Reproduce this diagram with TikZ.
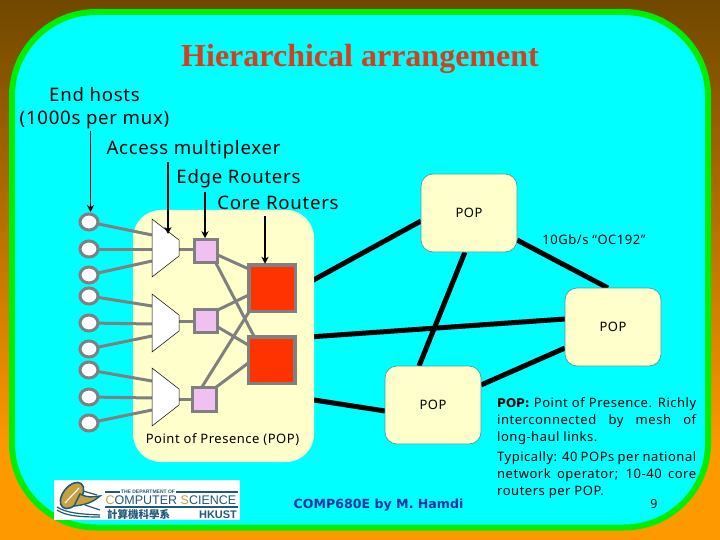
\documentclass[tikz,border=0pt]{standalone}
\usepackage{fontspec}
\usetikzlibrary{calc,arrows.meta,shapes.geometric}
\setmainfont{Noto Sans}[LetterSpace=4]
\newfontfamily\titlefont{Liberation Serif}
\newfontfamily\logofont{Liberation Sans}
\newfontfamily\heavyfont{DejaVu Sans}
\newfontfamily\cjkfont{Noto Sans CJK TC}
\definecolor{grayline}{HTML}{808080}
\definecolor{cream}{HTML}{FFFFCC}
\definecolor{logoteal}{HTML}{1F5A78}
\definecolor{logogold}{HTML}{C8A040}
\definecolor{bgbrown}{HTML}{704800}
\definecolor{bgorange}{HTML}{FF9900}
\definecolor{framegreen}{HTML}{00EE00}
\definecolor{slidecyan}{HTML}{00FFFF}
\definecolor{edgepink}{HTML}{F0C0F0}
\definecolor{corered}{HTML}{FF3300}
\definecolor{popedge}{HTML}{46A0A0}
\definecolor{titlered}{HTML}{D4401F}
\definecolor{compblue}{HTML}{0A32AA}
\pgfdeclarelayer{bg}
\pgfdeclarelayer{links}
\pgfdeclarelayer{popbg}
\pgfdeclarelayer{conn}
\pgfsetlayers{bg,links,popbg,conn,main}
\tikzset{
  host/.style={ellipse,draw=grayline,line width=3pt,fill=white,minimum width=18pt,minimum height=16pt,inner sep=0pt,outer sep=0pt},
  muxbox/.style={rectangle,minimum width=27pt,minimum height=58pt,inner sep=0pt,outer sep=0pt},
  edgebox/.style={rectangle,draw=grayline,line width=3pt,fill=edgepink,minimum width=23.5pt,minimum height=23.5pt,inner sep=0pt,outer sep=0pt},
  corebox/.style={rectangle,draw=grayline,line width=3.5pt,fill=corered,minimum width=46.5pt,minimum height=46.5pt,inner sep=0pt,outer sep=0pt},
  popbox/.style={rectangle,rounded corners=12pt,draw=popedge,line width=0.7pt,fill=cream,minimum width=96pt,minimum height=78pt,inner sep=0pt,outer sep=0pt,font=\fontsize{13}{15}\selectfont},
  glink/.style={draw=grayline,line width=3pt},
  blink/.style={draw=black,line width=5pt},
  callout/.style={draw=black,line width=1.6pt,-{Stealth[length=7pt,width=7pt]}},
  lbl/.style={inner sep=0pt,font=\fontsize{18.6}{21}\selectfont},
}
\begin{document}
\begin{tikzpicture}[x=1pt,y=-1pt]
\useasboundingbox (0,0) rectangle (720,540);
\begin{pgfonlayer}{bg}
  \shade[top color=bgbrown,bottom color=bgorange] (0,0) rectangle (720,450);
  \fill[bgorange] (0,449) rectangle (720,540);
  \draw[draw=framegreen,fill=slidecyan,line width=6pt,rounded corners=84pt] (12,12) rectangle (708,527.5);
\end{pgfonlayer}

\begin{pgfonlayer}{popbg}
\node[rectangle,rounded corners=28pt,fill=cream,minimum width=181pt,minimum height=252pt,inner sep=0pt,outer sep=0pt] (popmain) at (223.5,336) {};
\end{pgfonlayer}

\node[inner sep=0pt,font=\titlefont\bfseries\fontsize{32}{35}\selectfont,text=titlered] (title) at (360,59) {Hierarchical arrangement};
\node[lbl] (lhosts) at (94.5,95) {End hosts};
\node[lbl] (lmux) at (94.5,120) {(1000s per mux)};
\node[lbl] (laccess) at (193.5,150) {Access multiplexer};
\node[lbl] (ledge) at (238.5,179) {Edge Routers};
\node[lbl] (lcore) at (278,203) {Core Routers};

% hosts
\node[host] (h1) at (89,222) {};
\node[host] (h2) at (89,249) {};
\node[host] (h3) at (89,275) {};
\node[host] (h4) at (89,296) {};
\node[host] (h5) at (89,323) {};
\node[host] (h6) at (89,349) {};
\node[host] (h7) at (89,370) {};
\node[host] (h8) at (89,397) {};
\node[host] (h9) at (89,423) {};

% mux anchors
\node[muxbox] (m1) at (165.5,248) {};
\node[muxbox] (m2) at (165.5,323) {};
\node[muxbox] (m3) at (165.5,397) {};
\foreach \m in {m1,m2,m3}{
  \draw[black,line width=0.5pt,fill=white] (\m.north west) -- ($(\m.north east)+(0,21)$) -- ($(\m.south east)+(0,-21)$) -- (\m.south west) -- cycle;
}

% routers
\node[edgebox] (e1) at (206,251) {};
\node[edgebox] (e2) at (206,321) {};
\node[edgebox] (e3) at (204.5,399.5) {};
\node[corebox] (c1) at (272,288) {};
\node[corebox] (c2) at (271.5,360) {};

% POPs
\node[popbox] (p1) at (469,213) {POP};
\node[popbox] (p2) at (613,327) {POP};
\node[popbox] (p3) at (433,405) {POP};

% thick links
\begin{pgfonlayer}{links}
  \draw[blink] ($(c1.east)+(0,2)$) -- ($(p1.west)+(0,8)$);
  \draw[blink] ($(c2.east)+(0,-22)$) -- ($(p2.west)+(0,-8)$);
  \draw[blink] ($(c2.east)+(0,37)$) -- ($(p3.west)+(0,6)$);
  \draw[blink] ($(p1.east)+(0,27)$) -- ($(p2.north)+(-5,0)$);
  \draw[blink] ($(p1.south)+(-4,0)$) -- ($(p3.north)+(-14,0)$);
  \draw[blink] ($(p2.west)+(0,21)$) -- ($(p3.east)+(0,-20)$);
\end{pgfonlayer}

% grey connectors
\begin{pgfonlayer}{conn}
\draw[glink] (h1) -- ($(m1.west)+(0,-13)$);
\draw[glink] (h2) -- ($(m1.west)+(0,1)$);
\draw[glink] (h3) -- ($(m1.west)+(0,13)$);
\draw[glink] (h4) -- ($(m2.west)+(0,-17)$);
\draw[glink] (h5) -- ($(m2.west)+(0,1)$);
\draw[glink] (h6) -- ($(m2.west)+(0,13)$);
\draw[glink] (h7) -- ($(m3.west)+(0,-16)$);
\draw[glink] (h8) -- ($(m3.west)+(0,1)$);
\draw[glink] (h9) -- ($(m3.west)+(0,13)$);
\draw[glink] ($(m1.east)+(0,1)$) -- ($(e1.west)+(0,-2)$);
\draw[glink] ($(m2.east)+(0,-2)$) -- (e2.west);
\draw[glink] ($(m3.east)+(0,2)$) -- ($(e3.west)+(0,-0.5)$);
\draw[glink] ($(e1.east)+(0,4)$) -- ($(c1.west)+(0,-19)$);
\draw[glink] ($(e1.south east)+(-2,0)$) -- ($(c2.north west)+(6,0)$);
\draw[glink] ($(e2.east)+(0,-11)$) -- ($(c1.west)+(0,7)$);
\draw[glink] ($(e2.east)+(0,6)$) -- ($(c2.west)+(0,-15)$);
\draw[glink] ($(e3.north)+(-3,0)$) -- ($(c1.south west)+(0,1)$);
\draw[glink] ($(e3.north east)+(-1,0)$) -- ($(c2.west)+(0,3)$);
\end{pgfonlayer}

% callouts
\coordinate (ah) at (90.5,131);
\coordinate (am) at (168,162);
\coordinate (ae) at (205,192);
\coordinate (ac) at (265,216);
\draw[callout] (ah) -- ($(h1.north)+(1.5,-2)$);
\draw[callout] (am) -- ($(m1.north)+(2.5,15)$);
\draw[callout] (ae) -- ($(e1.north)+(-1,-1)$);
\draw[callout] (ac) -- ($(c1.north)+(-7,-1)$);

\node[inner sep=0pt,font=\fontsize{13}{15}\selectfont] (lrate) at (594,240) {10Gb/s “OC192”};
\node[inner sep=0pt,font=\fontsize{13}{15}\selectfont] (lpop) at (222.5,439.5) {Point of Presence (POP)};

\node[inner sep=0pt,font=\heavyfont\bfseries\fontsize{12.6}{15}\selectfont,text=compblue] (lcomp) at (378.5,505) {COMP680E by M. Hamdi};

\node[anchor=north west,inner sep=0pt,align=left,font=\fontsize{13}{17}\selectfont] (note) at (497,397) {%
\makebox[199pt][s]{{\heavyfont\bfseries\fontsize{12}{17}\selectfont POP:} Point of Presence. Richly}\\
\makebox[199pt][s]{interconnected by mesh of}\\
long-haul links.\\[3pt]
\makebox[199pt][s]{Typically: 40 POPs per national}\\
\makebox[199pt][s]{network operator; 10-40 core}\\
routers per POP.};
\node[inner sep=0pt,font=\fontsize{12.5}{15}\selectfont] (pnum) at (654,504.5) {9};

% logo
\node[fill=white,minimum width=186pt,minimum height=40pt,inner sep=0pt,outer sep=0pt] (logo) at (147,500) {};
\draw[logoteal,line width=1.8pt] ($(logo.west)+(51,-8)$) -- ++(133,0);
\draw[logoteal,line width=1.6pt] ($(logo.west)+(51,7)$) -- ++(133,0);
\node[fill=white,inner sep=1pt,font=\logofont\bfseries\fontsize{5}{6}\selectfont,text=logoteal] (ldept) at (148,492) {THE DEPARTMENT OF};
\node[inner sep=0pt,font=\logofont\fontsize{12.5}{14}\selectfont,text=logoteal] (lcs) at (171,500) {\textcolor{logogold}{C}OMPUTER \textcolor{logogold}{S}CIENCE};
\node[inner sep=0pt,font=\cjkfont\bfseries\fontsize{10.5}{12}\selectfont,text=logoteal] (lcjk) at (138.5,514) {計算機科學系};
\node[inner sep=0pt,font=\logofont\bfseries\fontsize{11}{12}\selectfont,text=logoteal] (lust) at (218,514.5) {HKUST};
\draw[logoteal,line width=1.6pt,fill=logogold] (72,495.5) ellipse [x radius=9pt,y radius=15pt,rotate=-38];
\draw[white,line width=1.2pt] (65,503) -- (79,488);
\draw[logoteal,line width=1.4pt,fill=logogold] (80,494) .. controls (88,498) and (92,497) .. (100,496) .. controls (92,503) and (84,505) .. (74,506) -- cycle;
\draw[logoteal,line width=1.2pt] (83,491) -- (97,495);
\draw[logoteal,line width=1.2pt] (57,507) .. controls (66,513) and (80,514) .. (100,515);
\draw[logoteal,line width=1.2pt] (57,510) .. controls (66,516) and (80,517) .. (100,517);
\draw[logoteal,line width=1.2pt] (85,505) -- (100,510);
\end{tikzpicture}
\end{document}
